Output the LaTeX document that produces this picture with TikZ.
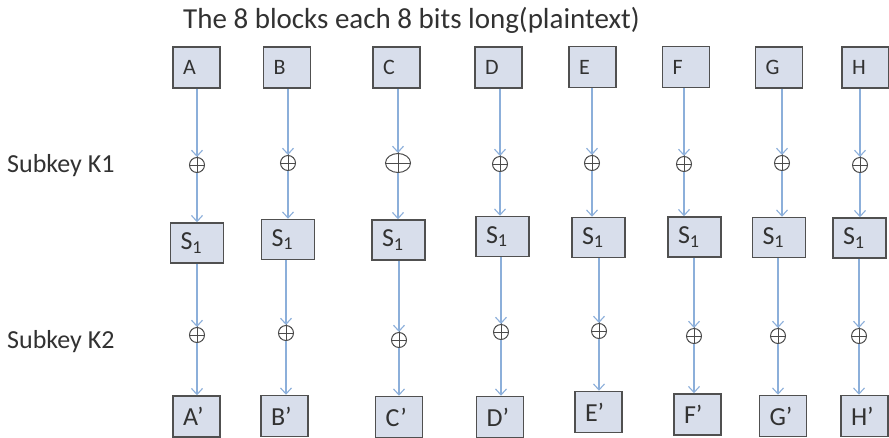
\documentclass[tikz,border=0pt]{standalone}
\usepackage{fontspec}
\setmainfont{Carlito}
\usetikzlibrary{arrows.meta,shapes.geometric}
\definecolor{boxfill}{RGB}{216,222,235}
\definecolor{boxline}{RGB}{80,80,80}
\definecolor{arrowblue}{RGB}{140,175,218}
\definecolor{xorgray}{RGB}{75,75,75}
\definecolor{txt}{RGB}{50,50,50}
\begin{document}
\begin{tikzpicture}[x=1pt,y=-1pt,
  blk/.style={rectangle,draw=boxline,line width=1.5pt,fill=boxfill,text=txt,inner xsep=10pt,inner ysep=0pt,align=left,minimum height=41pt},
  inblk/.style={blk,text width=27pt,font=\fontsize{22}{24}\selectfont},
  sblk/.style={blk,text width=33pt,minimum height=40pt,font=\fontsize{26}{28}\selectfont},
  outblk/.style={blk,text width=27pt,font=\fontsize{26}{28}\selectfont},
  xorc/.style={circle,draw=xorgray,line width=1pt,inner sep=0pt,minimum size=15pt},
  xore/.style={ellipse,draw=xorgray,line width=1pt,inner sep=0pt,minimum width=25pt,minimum height=19pt},
  arr/.style={draw=arrowblue,line width=1.1pt,-{Straight Barb[length=6pt,width=11pt]}},
  lbl/.style={anchor=base west,inner sep=0pt,text=txt}
]
\useasboundingbox (0,0) rectangle (889,437);
% texts
\node[lbl,font=\fontsize{29}{32}\selectfont] (title) at (183,28) {The 8 blocks each 8 bits long(plaintext)};
\node[lbl,font=\fontsize{26}{30}\selectfont] (k1) at (7,172) {Subkey K1};
\node[lbl,font=\fontsize{26}{30}\selectfont] (k2) at (7,348) {Subkey K2};
% input blocks
\node[inblk] (A) at (196.5,67.5) {A};
\node[inblk] (B) at (287,67.5) {B};
\node[inblk] (C) at (396.5,67.5) {C};
\node[inblk] (D) at (498.5,67.5) {D};
\node[inblk] (E) at (592.5,67) {E};
\node[inblk] (F) at (686,67) {F};
\node[inblk] (G) at (779,67.5) {G};
\node[inblk] (H) at (865.5,67.5) {H};
% first xor
\node[xorc] (xa1) at (197,165) {};
\node[xorc] (xb1) at (288,163) {};
\node[xore] (xc1) at (398,163) {};
\node[xorc] (xd1) at (500,164) {};
\node[xorc] (xe1) at (592,163) {};
\node[xorc] (xf1) at (684,164) {};
\node[xorc] (xg1) at (782,163) {};
\node[xorc] (xh1) at (860,165) {};
% S boxes
\node[sblk] (sa) at (197,243) {S\textsubscript{1}};
\node[sblk] (sb) at (288,239.5) {S\textsubscript{1}};
\node[sblk] (sc) at (398.5,240) {S\textsubscript{1}};
\node[sblk] (sd) at (502.5,236.5) {S\textsubscript{1}};
\node[sblk] (se) at (598.5,237.5) {S\textsubscript{1}};
\node[sblk] (sf) at (694.5,237) {S\textsubscript{1}};
\node[sblk] (sg) at (779,237.5) {S\textsubscript{1}};
\node[sblk] (sh) at (859.5,238) {S\textsubscript{1}};
% second xor
\node[xorc] (xa2) at (197,335) {};
\node[xorc] (xb2) at (286,333) {};
\node[xorc] (xc2) at (399,340) {};
\node[xorc] (xd2) at (501,332) {};
\node[xorc] (xe2) at (599,331) {};
\node[xorc] (xf2) at (694,336) {};
\node[xorc] (xg2) at (778,336) {};
\node[xorc] (xh2) at (859,336) {};
% output blocks
\node[outblk] (Ao) at (196.5,416.5) {A’};
\node[outblk] (Bo) at (284.5,416) {B’};
\node[outblk] (Co) at (399,417) {C’};
\node[outblk] (Do) at (500,417) {D’};
\node[outblk] (Eo) at (598.5,412) {E’};
\node[outblk] (Fo) at (697.5,414.5) {F’};
\node[outblk] (Go) at (783,416) {G’};
\node[outblk] (Ho) at (864.5,416) {H’};
% plus signs
\foreach \n in {xa1,xb1,xc1,xd1,xe1,xf1,xg1,xh1,xa2,xb2,xc2,xd2,xe2,xf2,xg2,xh2}
  \draw[xorgray,line width=1pt] ([yshift=2pt]\n.north) -- ([yshift=-2pt]\n.south) (\n.west) -- (\n.east);
% arrows
\foreach \i/\s/\o in {A/a/Ao,B/b/Bo,C/c/Co,D/d/Do,E/e/Eo,F/f/Fo,G/g/Go,H/h/Ho}{
  \draw[arr] (\i.south -| x\s1) -- (x\s1);
  \draw[arr] (x\s1) -- (x\s1 |- s\s.north);
  \draw[arr] (s\s.south -| x\s2) -- (x\s2);
  \draw[arr] (x\s2) -- (x\s2 |- \o.north);
}
\end{tikzpicture}
\end{document}
